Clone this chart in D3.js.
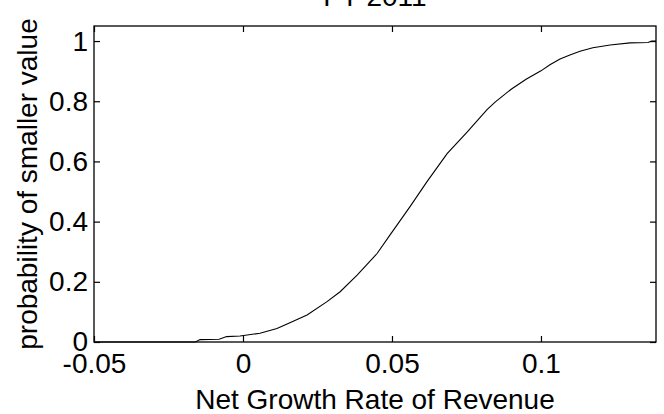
<!DOCTYPE html>
<html>
<head>
<meta charset="utf-8">
<script src="https://cdn.jsdelivr.net/npm/d3@7"></script>
<style>
  body { margin: 0; background: #fff; }
  text { font-family: "Liberation Sans", Arial, sans-serif; fill: #000; }
</style>
</head>
<body>
<div id="chart"></div>
<script>
const growthRate = [-0.05, -0.016, -0.0144, -0.008, -0.0055, -0.001, 0.0057, 0.0114, 0.0148, 0.0215,
  0.0282, 0.0326, 0.0383, 0.045, 0.0493, 0.056, 0.0617, 0.0685, 0.0752, 0.0819,
  0.0846, 0.09, 0.095, 0.1, 0.103, 0.1064, 0.1097, 0.1131, 0.1174, 0.1232,
  0.1299, 0.1359, 0.1372, 0.1386]
const probability = [0, 0, 0.008, 0.009, 0.018, 0.02, 0.029, 0.045, 0.06, 0.09,
  0.134, 0.167, 0.222, 0.294, 0.355, 0.449, 0.532, 0.626, 0.697, 0.772,
  0.797, 0.84, 0.873, 0.901, 0.921, 0.94, 0.954, 0.966, 0.978, 0.987,
  0.994, 0.995, 1, 1]
const xTicks = [-0.05, 0, 0.05, 0.1]
const yTicks = [0, 0.2, 0.4, 0.6, 0.8, 1]

const title = "FY 2011"
const xLabel = "Net Growth Rate of Revenue"
const yLabel = "probability of smaller value"

let width = 664, height = 414
let margin = ({top: 26, right: 8, bottom: 72, left: 94})

let data = growthRate.map((g, i) => ({x: g, y: probability[i]}))

let x = d3.scaleLinear()
  .domain([-0.05, 0.1386])
  .range([margin.left, width - margin.right])

let y = d3.scaleLinear()
  .domain([0, 1.05])
  .range([height - margin.bottom, margin.top])

const svg = d3.select("#chart").append("svg")
  .attr("width", width)
  .attr("height", height)

let fmt = d => d === 0 ? "0" : String(d)

// bottom + left with labels, top + right only ticks
svg.append("g")
  .attr("transform", `translate(0,${height - margin.bottom})`)
  .call(d3.axisBottom(x).tickValues(xTicks).tickFormat(fmt).tickSize(-6).tickPadding(11))
  .call(g => g.select(".domain").remove())
  .call(g => g.selectAll("text").attr("font-size", 28).attr("font-family", null))

svg.append("g")
  .attr("transform", `translate(${margin.left},0)`)
  .call(d3.axisLeft(y).tickValues(yTicks).tickFormat(fmt).tickSize(-6).tickPadding(6))
  .call(g => g.select(".domain").remove())
  .call(g => g.selectAll("text").attr("font-size", 28).attr("font-family", null))

svg.append("g")
  .attr("transform", `translate(0,${margin.top})`)
  .call(d3.axisTop(x).tickValues(xTicks).tickFormat("").tickSize(-6))
  .call(g => g.select(".domain").remove())

svg.append("g")
  .attr("transform", `translate(${width - margin.right},0)`)
  .call(d3.axisRight(y).tickValues(yTicks).tickFormat("").tickSize(-6))
  .call(g => g.select(".domain").remove())

svg.selectAll(".tick line").attr("stroke", "#000").attr("stroke-width", 1.2)

svg.append("rect")
  .attr("x", margin.left)
  .attr("y", margin.top)
  .attr("width", width - margin.left - margin.right)
  .attr("height", height - margin.top - margin.bottom)
  .attr("fill", "none")
  .attr("stroke", "#000")
  .attr("stroke-width", 1.3)

let line = d3.line()
  .x(d => x(d.x))
  .y(d => y(d.y))

svg.append("path")
  .datum(data)
  .attr("fill", "none")
  .attr("stroke", "#000")
  .attr("stroke-width", 1.1)
  .attr("d", line)

svg.append("text")
  .attr("x", (margin.left + width - margin.right) / 2)
  .attr("y", 6)
  .attr("text-anchor", "middle")
  .attr("font-size", 28)
  .text(title)

svg.append("text")
  .attr("x", (margin.left + width - margin.right) / 2)
  .attr("y", 409)
  .attr("text-anchor", "middle")
  .attr("font-size", 28)
  .text(xLabel)

svg.append("text")
  .attr("transform", `translate(37,${(margin.top + height - margin.bottom) / 2}) rotate(-90)`)
  .attr("text-anchor", "middle")
  .attr("font-size", 28)
  .text(yLabel)
</script>
</body>
</html>
